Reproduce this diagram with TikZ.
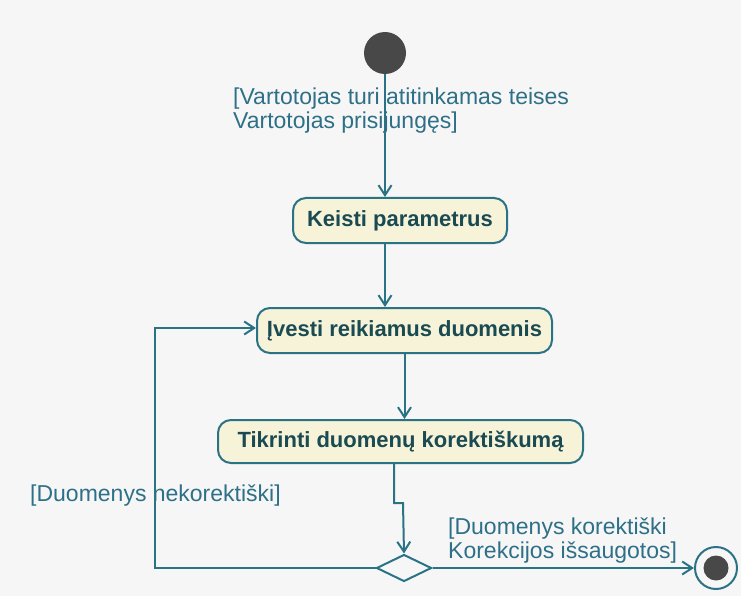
\documentclass[tikz,border=0pt]{standalone}
\usepackage{fontspec}
\setmainfont{Liberation Sans}
\usetikzlibrary{arrows.meta,shapes.geometric}
\definecolor{bgc}{HTML}{F6F6F6}
\definecolor{edgec}{HTML}{2A7385}
\definecolor{labelc}{HTML}{2E7087}
\definecolor{actfill}{HTML}{F7F3D9}
\definecolor{acttext}{HTML}{1A4A52}
\definecolor{dotc}{HTML}{484848}
\tikzset{
  flow/.style={draw=edgec, line width=2pt, -{Straight Barb[length=10pt,width=13pt,line width=2pt]}},
  action/.style={draw=edgec, line width=2pt, fill=actfill, rounded corners=13pt,
    text=acttext, font=\fontsize{22}{26}\selectfont\bfseries, inner sep=0pt},
  guard/.style={text=labelc, font=\fontsize{23}{24}\selectfont, inner sep=0pt, align=left},
}
\begin{document}
\begin{tikzpicture}[x=1pt,y=-1pt]
  \fill[bgc] (0,0) rectangle (741,596);
  \useasboundingbox (0,0) rectangle (741,596);

  % initial node
  \node[circle, fill=dotc, minimum size=42pt, inner sep=0pt] (start) at (385,53) {};

  % activities
  \node[action, minimum width=214pt, minimum height=45pt] (keisti) at (400,220.5) {Keisti parametrus};
  \node[action, minimum width=295pt, minimum height=45pt] (ivesti) at (404.5,330.5) {Įvesti reikiamus duomenis};
  \node[action, minimum width=365pt, minimum height=43pt] (tikr) at (400.5,441.5) {Tikrinti duomenų korektiškumą};

  % decision
  \node[diamond, draw=edgec, line width=2pt, fill=bgc, minimum width=55pt, minimum height=27pt,
        inner sep=0pt, aspect=2] (dec) at (404,568) {};

  % final node
  \node[circle, draw=edgec, line width=2pt, fill=bgc, minimum size=42pt, inner sep=0pt] (final) at (716,568) {};
  \node[circle, fill=dotc, minimum size=25pt, inner sep=0pt] (finaldot) at (final) {};

  % bends of the connectors
  \coordinate (t1) at (394,463.5);
  \coordinate (t2) at (394,503);
  \coordinate (t3) at (403,503);
  \coordinate (l1) at (155,568);
  \coordinate (l2) at (155,328);
  \coordinate (l3) at (256,328);

  % guards (base = baseline of the last line)
  \node[guard, anchor=base west] (g1) at (233,129) {[Vartotojas turi atitinkamas teises\\Vartotojas prisijungęs]};
  \node[guard, anchor=base west] (g2) at (30,501) {[Duomenys nekorektiški]};
  \node[guard, anchor=base west] (g3) at (448,558) {[Duomenys korektiški\\Korekcijos išsaugotos]};

  % connectors
  \draw[flow] (start) -- (start |- keisti.north);
  \draw[flow] (keisti.south -| start) -- (ivesti.north -| start);
  \draw[flow] (ivesti.south) -- (ivesti.south |- tikr.north);
  \draw[flow] (t1) -- (t2) -- (t3) -- (dec.north);
  \draw[flow] (dec.west) -- (l1) -- (l2) -- (l3);
  \draw[flow] (dec.east) -- (final.west);
\end{tikzpicture}
\end{document}
